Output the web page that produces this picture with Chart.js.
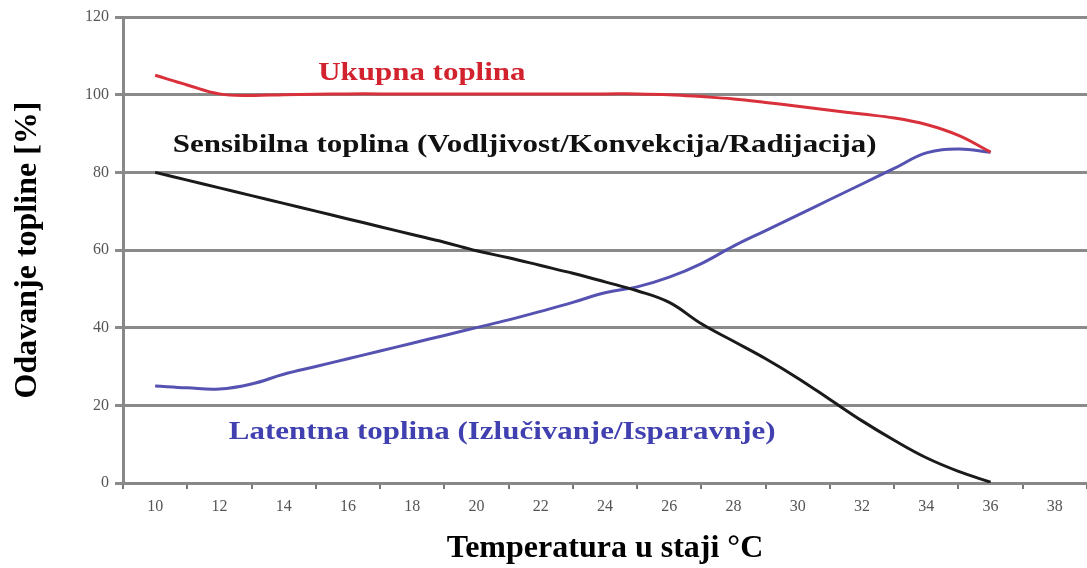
<!DOCTYPE html>
<html>
<head>
<meta charset="utf-8">
<script src="https://cdn.jsdelivr.net/npm/chart.js@4.4.0/dist/chart.umd.min.js"></script>
<style>
  html, body { margin: 0; padding: 0; background: #fff; }
  #wrap { width: 1087px; height: 568px; }
</style>
</head>
<body>
<div id="wrap"><canvas id="heat-chart"></canvas></div>
<script>
// temperatura u staji (°C)
var temps = [10, 11, 12, 13, 14, 15, 16, 17, 18, 19, 20, 21, 22, 23, 24, 25, 26, 27, 28, 29, 30, 31, 32, 33, 34, 35, 36];
// ukupna toplina [%]
var ukupna = [105, 102.5, 100.2, 99.8, 100, 100.1, 100.2, 100.2, 100.2, 100.2, 100.2, 100.2, 100.2, 100.2, 100.2, 100.2, 100, 99.5, 98.9, 98, 97, 96, 95, 94, 92.3, 89.5, 85.2];
// sensibilna toplina [%]
var sensibilna = [80, 78, 76, 74, 72, 70, 68, 66, 64, 62, 59.8, 58, 56, 54, 51.8, 49.5, 46.5, 41, 36.5, 32, 27, 21.5, 16, 11, 6.5, 3, 0.2];
// latentna toplina [%]
var latentna = [25, 24.5, 24.2, 25.5, 28, 30, 32, 34, 36, 38, 40, 42, 44.2, 46.5, 49, 50.5, 53, 56.5, 61, 65, 69, 73, 77, 81, 85, 86, 85.2];

// tekstovi na grafu: [tekst, x, y, boja]
var labels = [
  ['Ukupna toplina', 18.3, 105.5, '#d2222e'],
  ['Sensibilna toplina (Vodljivost/Konvekcija/Radijacija)', 21.5, 87, '#111111'],
  ['Latentna toplina (Izlučivanje/Isparavnje)', 20.8, 13, '#4040b0']
];

function pts(vals) {
  return temps.map(function(t, i) { return { x: t, y: vals[i] }; });
}

var serif = '"Liberation Serif", "DejaVu Serif", serif';

// tekst je u originalu malo razvucen u sirinu
var textPlugin = {
  id: 'seriesText',
  afterDatasetsDraw: function(chart) {
    var c = chart.ctx;
    var sx = chart.scales.x, sy = chart.scales.y;
    labels.forEach(function(l) {
      c.save();
      c.translate(sx.getPixelForValue(l[1]), sy.getPixelForValue(l[2]));
      c.scale(1.19, 1);
      c.font = 'bold 26px ' + serif;
      c.textAlign = 'center';
      c.textBaseline = 'middle';
      c.fillStyle = l[3];
      c.fillText(l[0], 0, 0);
      c.restore();
    });
  }
};

var ctx = document.getElementById('heat-chart');

var myChart = new Chart(ctx, {
  type: 'line',
  data: {
    datasets: [
      { label: 'Ukupna toplina', data: pts(ukupna), borderColor: '#d9313b', borderWidth: 3, tension: 0.4, pointRadius: 0, fill: false },
      { label: 'Sensibilna toplina', data: pts(sensibilna), borderColor: '#1a1a1a', borderWidth: 3, tension: 0.4, pointRadius: 0, fill: false },
      { label: 'Latentna toplina', data: pts(latentna), borderColor: '#5552b2', borderWidth: 3, tension: 0.4, pointRadius: 0, fill: false }
    ]
  },
  options: {
    responsive: true,
    maintainAspectRatio: false,
    animation: false,
    layout: { padding: { top: 17, right: 0, left: 0, bottom: 0 } },
    plugins: {
      legend: { display: false },
      tooltip: { enabled: false }
    },
    scales: {
      x: {
        type: 'linear',
        min: 9,
        max: 39,
        afterFit: function(s) { s.height = 85; s.paddingLeft = 0; s.paddingRight = 0; },
        ticks: {
          stepSize: 1,
          autoSkip: false,
          maxRotation: 0,
          color: '#555',
          font: { family: serif, size: 16 },
          padding: 8,
          callback: function(v) { return v % 2 === 0 && v >= 10 ? v : ''; }
        },
        grid: {
          drawOnChartArea: false,
          tickLength: 6,
          lineWidth: 2,
          color: function(c) { return c.tick && c.tick.value % 2 === 1 ? '#777' : 'rgba(0,0,0,0)'; }
        },
        border: { display: true, color: '#888', width: 3 },
        title: {
          display: true,
          text: 'Temperatura u staji °C',
          color: '#000',
          font: { family: serif, size: 32, weight: 'bold' },
          padding: { top: 10, bottom: 0 }
        }
      },
      y: {
        min: 0,
        max: 120,
        afterFit: function(s) { s.width = 123; },
        ticks: {
          stepSize: 20,
          color: '#555',
          font: { family: serif, size: 16 },
          padding: 6
        },
        grid: {
          color: '#8a8a8a',
          lineWidth: 3,
          tickLength: 8
        },
        border: { display: true, color: '#888', width: 3 },
        title: {
          display: true,
          text: 'Odavanje topline [%]',
          color: '#000',
          font: { family: serif, size: 32, weight: 'bold' },
          padding: { top: 9, bottom: 10 }
        }
      }
    }
  },
  plugins: [textPlugin]
});
</script>
</body>
</html>
